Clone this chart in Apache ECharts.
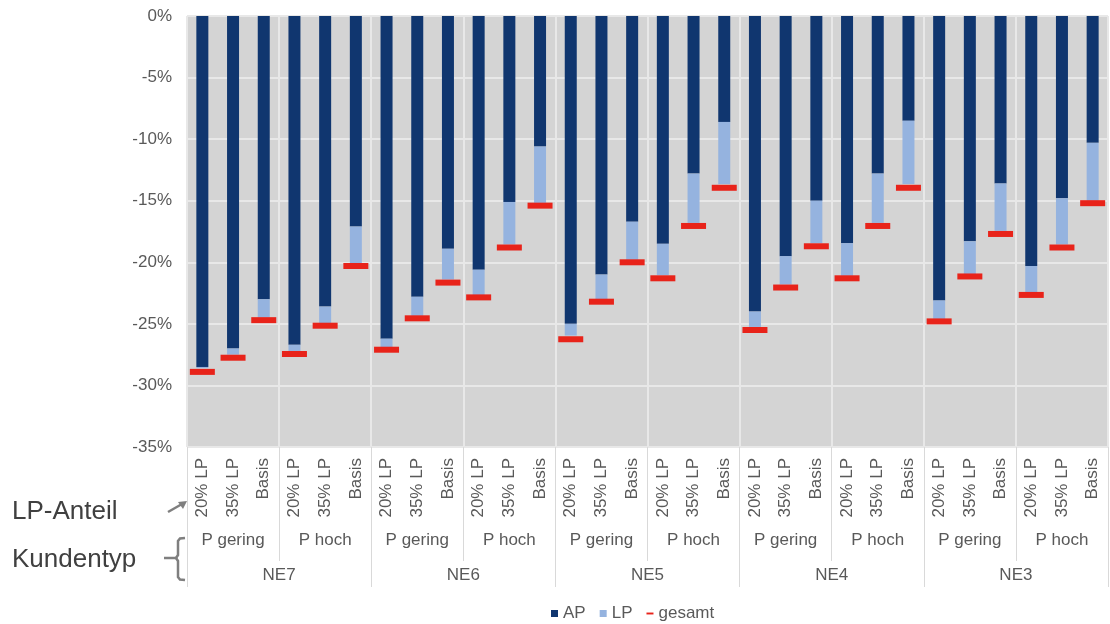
<!DOCTYPE html>
<html>
<head>
<meta charset="utf-8">
<script src="https://cdn.jsdelivr.net/npm/echarts@6/dist/echarts.min.js"></script>
<style>
  html, body { margin: 0; padding: 0; background: #ffffff; }
  #chart { width: 1110px; height: 624px; }
</style>
</head>
<body>
<div id="chart"></div>
<script>
// Category levels (innermost to outermost)
const lpAnteil = ['20% LP', '35% LP', 'Basis'];
const kundentyp = ['P gering', 'P hoch'];
const netzebenen = ['NE7', 'NE6', 'NE5', 'NE4', 'NE3'];

// Change in percent per column (NE7 P gering 20% LP ... NE3 P hoch Basis)
const apValues = [
  -28.5, -27.0, -23.0, -26.7, -23.6, -17.1,
  -26.2, -22.8, -18.9, -20.6, -15.1, -10.6,
  -25.0, -21.0, -16.7, -18.5, -12.8, -8.6,
  -24.0, -19.5, -15.0, -18.45, -12.8, -8.5,
  -23.1, -18.3, -13.6, -20.3, -14.8, -10.3
];
const lpValues = [
  -0.1, -0.5, -1.5, -0.55, -1.35, -3.0,
  -0.7, -1.55, -2.5, -2.1, -3.45, -4.6,
  -0.95, -2.0, -3.1, -2.55, -4.0, -5.05,
  -1.25, -2.3, -3.45, -2.65, -4.0, -5.15,
  -1.5, -2.65, -3.85, -2.15, -3.75, -4.7
];
const gesamtValues = [
  -28.9, -27.75, -24.7, -27.45, -25.15, -20.3,
  -27.1, -24.55, -21.65, -22.85, -18.8, -15.4,
  -26.25, -23.2, -20.0, -21.3, -17.05, -13.95,
  -25.5, -22.05, -18.7, -21.3, -17.05, -13.95,
  -24.8, -21.15, -17.7, -22.65, -18.8, -15.2
];
const yTicks = [0, -5, -10, -15, -20, -25, -30, -35];

// Expand the category levels to one entry per column
const lpLabels = [];
const kundenLabels = [];
netzebenen.forEach(() => {
  kundentyp.forEach(k => {
    kundenLabels.push(k);
    lpAnteil.forEach(l => lpLabels.push(l));
  });
});

const textGray = '#595959';
const lineGray = '#d9d9d9';
const FONT = 'Liberation Sans, Arial, sans-serif';

const chart = echarts.init(document.getElementById('chart'), null, { renderer: 'canvas' });

chart.setOption({
  backgroundColor: '#ffffff',
  animation: false,
  textStyle: { fontFamily: FONT },
  grid: {
    left: 187, right: 2, top: 16, bottom: 177,
    show: true, backgroundColor: '#d4d4d4', borderWidth: 0
  },
  legend: {
    left: 546, top: 600,
    itemWidth: 7, itemHeight: 7, itemGap: 14,
    textStyle: { color: textGray, fontSize: 17, fontFamily: FONT },
    data: [
      { name: 'AP', icon: 'rect' },
      { name: 'LP', icon: 'rect' },
      { name: 'gesamt', icon: 'path://M0,0h11v3h-11z' }
    ]
  },
  xAxis: [
    {
      type: 'category', data: lpLabels, position: 'bottom',
      axisLine: { show: false }, axisTick: { show: false },
      axisLabel: {
        interval: 0, rotate: 90, margin: 11,
        color: textGray, fontSize: 17, fontFamily: FONT
      },
      splitLine: {
        show: true,
        interval: (i) => i % 3 === 0,
        lineStyle: { color: '#e8e8e8', width: 2 }
      }
    },
    {
      type: 'category', data: kundenLabels, position: 'bottom',
      axisLine: { show: false },
      axisTick: { show: true, length: 114, lineStyle: { color: lineGray, width: 1 } },
      axisLabel: { interval: 0, margin: 85, color: textGray, fontSize: 17, fontFamily: FONT },
      splitLine: { show: false }
    },
    {
      type: 'category', data: netzebenen, position: 'bottom',
      axisLine: { show: false },
      axisTick: { show: true, length: 140, lineStyle: { color: lineGray, width: 1 } },
      axisLabel: { interval: 0, margin: 120, color: textGray, fontSize: 17, fontFamily: FONT },
      splitLine: { show: false }
    }
  ],
  yAxis: {
    type: 'value', min: -35, max: 0, interval: 5,
    axisLine: { show: false }, axisTick: { show: false },
    axisLabel: {
      margin: 15, color: textGray, fontSize: 17, fontFamily: FONT,
      formatter: (v) => (yTicks.includes(v) ? v + '%' : '')
    },
    splitLine: { show: true, lineStyle: { color: '#e8e8e8', width: 2 } }
  },
  series: [
    {
      name: 'AP', type: 'bar', stack: 'total', data: apValues,
      barWidth: 12, itemStyle: { color: '#10366f' }
    },
    {
      name: 'LP', type: 'bar', stack: 'total', data: lpValues,
      barWidth: 12, itemStyle: { color: '#95b3df' }
    },
    {
      name: 'gesamt', type: 'scatter', data: gesamtValues,
      symbol: 'rect', symbolSize: [25, 6], symbolKeepAspect: true,
      itemStyle: { color: '#e8231a', opacity: 1 }, z: 5
    }
  ],
  graphic: [
    {
      type: 'text', x: 12, y: 499,
      style: { text: 'LP-Anteil', fill: '#404040', fontSize: 26, fontFamily: FONT }
    },
    {
      type: 'text', x: 12, y: 547,
      style: { text: 'Kundentyp', fill: '#404040', fontSize: 26, fontFamily: FONT }
    },
    {
      // arrow pointing at the LP-Anteil label row
      type: 'line',
      shape: { x1: 168, y1: 512, x2: 182, y2: 504 },
      style: { stroke: '#7f7f7f', lineWidth: 2.5 }
    },
    {
      type: 'polygon',
      shape: { points: [[187, 501], [178, 502], [183, 509]] },
      style: { fill: '#7f7f7f' }
    },
    {
      // curly brace grouping the Kundentyp and NE rows
      type: 'polyline',
      shape: {
        points: [[185, 538], [180, 538.5], [178, 541], [178, 555], [176, 558]]
      },
      style: { stroke: '#7f7f7f', lineWidth: 2.5, fill: null }
    },
    {
      type: 'polyline',
      shape: {
        points: [[176, 558], [178, 561], [178, 577], [180, 579.5], [185, 580]]
      },
      style: { stroke: '#7f7f7f', lineWidth: 2.5, fill: null }
    },
    {
      type: 'line',
      shape: { x1: 164, y1: 558, x2: 177, y2: 558 },
      style: { stroke: '#7f7f7f', lineWidth: 2.5 }
    }
  ]
});
</script>
</body>
</html>
